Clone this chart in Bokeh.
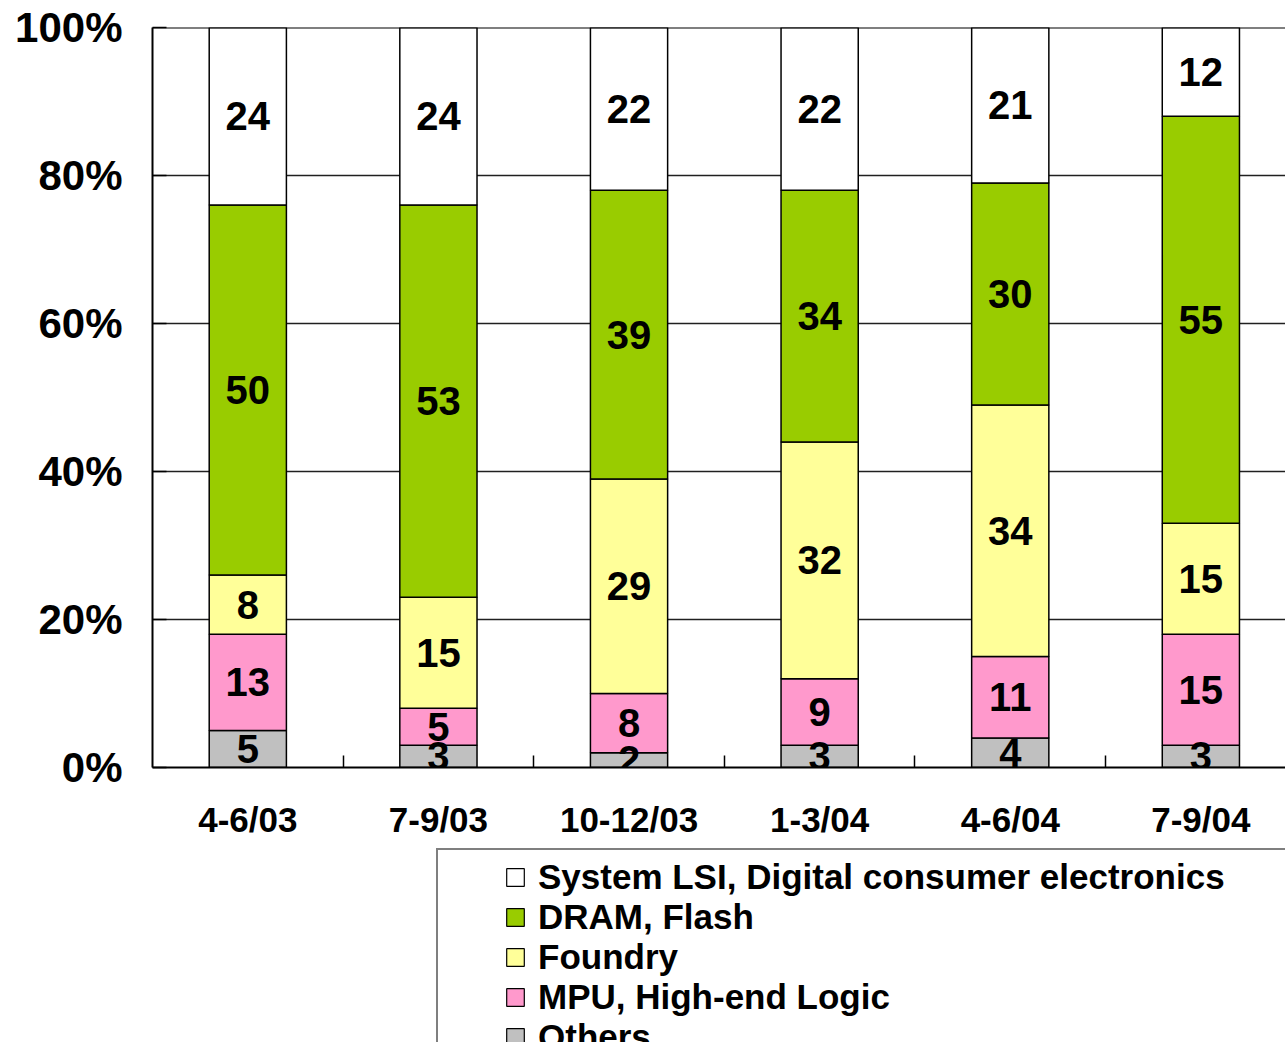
from bokeh.plotting import figure
from bokeh.layouts import column
from bokeh.models import ColumnDataSource, Range1d, FixedTicker, Legend, LegendItem, Span
from bokeh.core.properties import value
from bokeh.embed import file_html
from bokeh.resources import INLINE

# ---- data ----
periods = ["4-6/03", "7-9/03", "10-12/03", "1-3/04", "4-6/04", "7-9/04"]
others = [5, 3, 2, 3, 4, 3]
mpu = [13, 5, 8, 9, 11, 15]
foundry = [8, 15, 29, 32, 34, 15]
dram = [50, 53, 39, 34, 30, 55]
system_lsi = [24, 24, 22, 22, 21, 12]

series_keys = ["others", "mpu", "foundry", "dram", "lsi"]
series_values = [others, mpu, foundry, dram, system_lsi]
series_names = ["Others", "MPU, High-end Logic", "Foundry", "DRAM, Flash",
                "System LSI, Digital consumer electronics"]
colors = ["#C0C0C0", "#FF99CC", "#FFFF99", "#99CC00", "#FFFFFF"]
y_ticks = [0, 20, 40, 60, 80, 100]

FONT = "Liberation Sans"

xs = [i + 0.5 for i in range(len(periods))]
boundaries = [float(i) for i in range(1, len(periods))]

data = {"x": xs}
for k, v in zip(series_keys, series_values):
    data[k] = v
src = ColumnDataSource(data)

MAIN_H = 845
p = figure(width=1285, height=MAIN_H, output_backend="svg", toolbar_location=None,
           x_range=Range1d(0, 5.944), y_range=Range1d(0, 100),
           min_border_left=152, min_border_right=0, min_border_top=27,
           min_border_bottom=MAIN_H - 767)
p.outline_line_color = None
p.background_fill_color = "white"
p.border_fill_color = "white"

rends = p.vbar_stack(series_keys, x="x", width=0.405, source=src,
                     fill_color=colors, line_color="black", line_width=1.5)

# segment labels
lx, ly, lt = [], [], []
for j in range(len(periods)):
    base = 0
    for vals in series_values:
        v = vals[j]
        lx.append(xs[j])
        ly.append(base + v / 2)
        lt.append(str(v))
        base += v
p.text(x=lx, y=ly, text=lt, text_font=value(FONT), text_font_style="bold",
       text_font_size="40px", text_align="center", text_baseline="middle",
       text_color="black")

# top border
p.add_layout(Span(location=100, dimension="width", line_color="black", line_width=2))

# axes
yax = p.yaxis[0]
yax.ticker = FixedTicker(ticks=y_ticks)
yax.major_label_overrides = {t: f"{t}%" for t in y_ticks}
yax.major_label_text_font = FONT
yax.major_label_text_font_style = "bold"
yax.major_label_text_font_size = "42px"
yax.major_label_text_color = "black"
yax.major_tick_in = 14
yax.major_tick_out = 0
yax.major_tick_line_width = 1.5
yax.minor_tick_line_color = None
yax.axis_line_width = 2
yax.major_label_standoff = 30

xax = p.xaxis[0]
xax.ticker = FixedTicker(ticks=xs, minor_ticks=boundaries)
xax.major_label_overrides = {x: lab for x, lab in zip(xs, periods)}
xax.major_label_text_font = FONT
xax.major_label_text_font_style = "bold"
xax.major_label_text_font_size = "35px"
xax.major_label_text_color = "black"
xax.major_tick_line_color = None
xax.minor_tick_in = 12
xax.minor_tick_out = 0
xax.minor_tick_line_color = "black"
xax.minor_tick_line_width = 1.5
xax.axis_line_width = 2
xax.major_label_standoff = 26

p.xgrid.grid_line_color = None
p.ygrid.ticker = FixedTicker(ticks=y_ticks)
p.ygrid.grid_line_color = "#202020"
p.ygrid.grid_line_width = 1.3

# ---- legend figure below ----
LEG_H = 1042 - MAIN_H
q = figure(width=1285, height=LEG_H, output_backend="svg", toolbar_location=None,
           x_range=Range1d(0, 1), y_range=Range1d(0, 1),
           x_axis_type=None, y_axis_type=None,
           min_border_left=0, min_border_right=0, min_border_top=0, min_border_bottom=0)
q.outline_line_color = None
q.xgrid.grid_line_color = None
q.ygrid.grid_line_color = None
q.background_fill_color = "white"
q.border_fill_color = "white"

# proxy glyphs for the legend (kept outside the visible range)
proxy = ColumnDataSource({"x": [-10.0], "top": [-10.0]})
leg_rends = [q.vbar(x="x", top="top", width=0.1, source=proxy, fill_color=c,
                    line_color="black", line_width=1.2) for c in colors]

items = [LegendItem(label=series_names[i], renderers=[leg_rends[i]])
         for i in reversed(range(len(series_keys)))]
legend = Legend(items=items, location=(284, -24),
                border_line_color="black", border_line_width=2,
                background_fill_color="white", background_fill_alpha=1.0,
                padding=7, spacing=0, margin=0,
                glyph_width=22, glyph_height=22, label_standoff=12,
                label_text_font=FONT, label_text_font_style="bold",
                label_text_font_size="35px", label_text_color="black",
                label_height=38, label_width=800,
                title=" ", title_location="left", title_text_font_size="10px",
                title_standoff=48)
q.add_layout(legend)

layout = column(p, q, spacing=0)
open("out.html", "w").write(file_html(layout, INLINE))
